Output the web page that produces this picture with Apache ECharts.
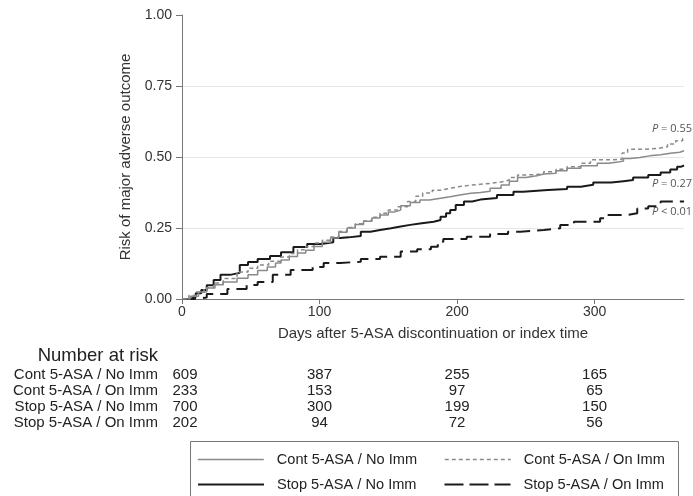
<!DOCTYPE html>
<html>
<head>
<meta charset="utf-8">
<script src="https://cdn.jsdelivr.net/npm/echarts@6/dist/echarts.min.js"></script>
<style>html,body{margin:0;padding:0;background:#fff}#c{width:693px;height:496px}</style>
</head>
<body>
<div id="c"></div>
<script>
var seriesNames = ['Cont 5-ASA / No Imm', 'Cont 5-ASA / On Imm', 'Stop 5-ASA / No Imm', 'Stop 5-ASA / On Imm'];

var contNoImmDays = [0,6,12,18,24,30,40,48,55,62,68,72,78,84,90,96,102,108,114,120,126,132,138,144,150,154,159,166,173,180,188,195,202,210,217,224,232,238,244,250,258,263,272,280,290,302,310,317,321,326,333,340,348,355,362,365];
var contNoImmRisk = [0,0.01,0.025,0.039,0.05,0.06,0.073,0.085,0.1,0.113,0.127,0.137,0.15,0.162,0.172,0.185,0.2,0.215,0.235,0.25,0.262,0.274,0.285,0.296,0.306,0.313,0.328,0.34,0.349,0.355,0.36,0.366,0.372,0.375,0.379,0.39,0.401,0.415,0.428,0.434,0.44,0.443,0.452,0.46,0.469,0.478,0.482,0.486,0.495,0.498,0.504,0.508,0.513,0.517,0.522,0.522];

var contOnImmDays = [0,5,10,16,23,30,40,48,55,63,72,78,84,90,96,102,108,114,120,126,132,138,144,150,157,164,170,175,182,188,195,202,210,217,224,232,238,244,252,263,272,280,290,297,310,320,324,336,346,353,359,364,365];
var contOnImmRisk = [0,0.012,0.025,0.04,0.056,0.072,0.095,0.108,0.12,0.133,0.148,0.16,0.173,0.185,0.197,0.207,0.218,0.238,0.252,0.265,0.275,0.288,0.302,0.313,0.325,0.343,0.362,0.373,0.383,0.39,0.396,0.401,0.404,0.407,0.412,0.419,0.428,0.437,0.44,0.448,0.457,0.466,0.478,0.49,0.492,0.514,0.527,0.53,0.536,0.546,0.557,0.565,0.565];

var stopNoImmDays = [0,6,10,14,18,23,28,35,42,48,55,64,72,81,91,101,110,115,121,130,137,144,152,159,166,173,183,188,192,195,199,205,211,217,229,241,248,266,280,290,299,312,321,328,339,348,355,360,363,365];
var stopNoImmRisk = [0,0.007,0.02,0.032,0.048,0.067,0.085,0.092,0.12,0.13,0.141,0.151,0.165,0.183,0.194,0.2,0.215,0.217,0.222,0.237,0.243,0.249,0.255,0.261,0.266,0.272,0.278,0.29,0.302,0.313,0.331,0.343,0.35,0.356,0.366,0.378,0.384,0.387,0.395,0.402,0.41,0.415,0.419,0.428,0.437,0.445,0.456,0.466,0.47,0.47];

var stopOnImmDays = [0,8,18,33,47,55,66,79,95,103,115,130,144,159,171,181,186,190,207,224,237,246,263,275,285,304,309,324,331,339,348,365];
var stopOnImmRisk = [0,0.005,0.018,0.035,0.049,0.06,0.085,0.102,0.113,0.127,0.131,0.141,0.149,0.167,0.175,0.184,0.202,0.211,0.219,0.229,0.237,0.243,0.249,0.261,0.272,0.284,0.296,0.302,0.319,0.327,0.343,0.345];

var xTicks = [0, 100, 200, 300];
var atRiskDays = [0, 100, 200, 300];
var atRiskContNoImm = [609, 387, 255, 165];
var atRiskContOnImm = [233, 153, 97, 65];
var atRiskStopNoImm = [700, 300, 199, 150];
var atRiskStopOnImm = [202, 94, 72, 56];

var pLabels = ['P = 0.55', 'P = 0.27', 'P < 0.01'];

function pairs(d, r) { return d.map(function (x, i) { return [x, r[i]]; }); }

var FONT = 'Liberation Sans, Arial, sans-serif';
var chart = echarts.init(document.getElementById('c'));

var styles = [
  { color: '#8a8a8a', width: 1.5, type: 'solid' },
  { color: '#8a8a8a', width: 1.5, type: [4, 3] },
  { color: '#1a1a1a', width: 2, type: 'solid' },
  { color: '#1a1a1a', width: 2, type: [14, 7] }
];
var legendDash = ['solid', [4, 3], 'solid', [19, 6]];
var datas = [
  pairs(contNoImmDays, contNoImmRisk),
  pairs(contOnImmDays, contOnImmRisk),
  pairs(stopNoImmDays, stopNoImmRisk),
  pairs(stopOnImmDays, stopOnImmRisk)
];

var legendText = { fontFamily: FONT, fontSize: 14.6, color: '#222', width: 140, padding: [0, 0, 0, 8] };
function legendCfg(idx, top) {
  return {
    data: idx.map(function (i) {
      return { name: seriesNames[i], lineStyle: { type: legendDash[i], width: styles[i].width, color: styles[i].color } };
    }),
    left: 197, top: top, padding: 0,
    itemWidth: 66, itemHeight: 14, itemGap: 27, selectedMode: false,
    itemStyle: { opacity: 0 },
    textStyle: legendText
  };
}

var option = {
  animation: false,
  backgroundColor: '#fff',
  grid: { left: 182, right: 9, top: 15, bottom: 197 },
  xAxis: {
    type: 'value', min: 0, max: 365, interval: 100,
    name: 'Days after 5-ASA discontinuation or index time',
    nameLocation: 'middle', nameGap: 27,
    nameTextStyle: { fontFamily: FONT, fontSize: 15, color: '#333' },
    axisLine: { show: true, lineStyle: { color: '#777', width: 1 } },
    axisTick: { show: true, length: 5, lineStyle: { color: '#777' }, customValues: xTicks },
    axisLabel: { fontFamily: FONT, fontSize: 14, color: '#333', margin: 6, customValues: xTicks },
    splitLine: { show: false }
  },
  yAxis: {
    type: 'value', min: 0, max: 1, interval: 0.25,
    name: 'Risk of major adverse outcome',
    nameLocation: 'middle', nameGap: 41,
    nameTextStyle: { fontFamily: FONT, fontSize: 15, color: '#333' },
    axisLine: { show: true, lineStyle: { color: '#777', width: 1 } },
    axisTick: { show: true, length: 6, lineStyle: { color: '#777' } },
    axisLabel: { fontFamily: FONT, fontSize: 14, color: '#333', margin: 10,
      formatter: function (v) { return v.toFixed(2); } },
    splitLine: { show: true, showMinLine: false, showMaxLine: false, lineStyle: { color: '#e6e6e6', width: 1 } }
  },
  legend: [
    legendCfg([0, 1], 452),
    legendCfg([2, 3], 477)
  ],
  series: seriesNames.map(function (n, i) {
    return {
      name: n, type: 'line', step: 'end', symbol: 'none', data: datas[i],
      lineStyle: styles[i], itemStyle: { color: styles[i].color }, z: 10 - i
    };
  })
};
chart.setOption(option);

var tableRows = [
  { label: seriesNames[0], vals: atRiskContNoImm, y: 375 },
  { label: seriesNames[1], vals: atRiskContOnImm, y: 391 },
  { label: seriesNames[2], vals: atRiskStopNoImm, y: 407 },
  { label: seriesNames[3], vals: atRiskStopOnImm, y: 423 }
];
var g = [];
g.push({ type: 'text', x: 158, y: 356, style: { text: 'Number at risk', font: '18.5px ' + FONT, fill: '#222', align: 'right', verticalAlign: 'middle' } });
tableRows.forEach(function (r) {
  g.push({ type: 'text', x: 158, y: r.y, style: { text: r.label, font: '15px ' + FONT, fill: '#222', align: 'right', verticalAlign: 'middle' } });
  r.vals.forEach(function (v, j) {
    var px = chart.convertToPixel({ xAxisIndex: 0 }, atRiskDays[j]);
    if (j === 0) px += 3;
    g.push({ type: 'text', x: px, y: r.y, style: { text: String(v), font: '15px ' + FONT, fill: '#222', align: 'center', verticalAlign: 'middle' } });
  });
});
var pY = [129, 184, 212];
pLabels.forEach(function (t, i) {
  var rest = t.slice(1);
  g.push({ type: 'text', x: 692, y: pY[i], style: {
    text: '{i|P}{n|' + rest + '}', align: 'right', verticalAlign: 'middle',
    rich: {
      i: { fontStyle: 'italic', fontFamily: 'Open Sans', fontSize: 11, fill: '#555', color: '#555' },
      n: { fontFamily: 'Open Sans', fontSize: 11, fill: '#555', color: '#555' }
    }
  } });
});
g.push({ type: 'rect', shape: { x: 190.5, y: 441.5, width: 488, height: 80 }, style: { fill: 'none', stroke: '#777', lineWidth: 1 }, z: -1 });
chart.setOption({ graphic: g });
</script>
</body>
</html>
